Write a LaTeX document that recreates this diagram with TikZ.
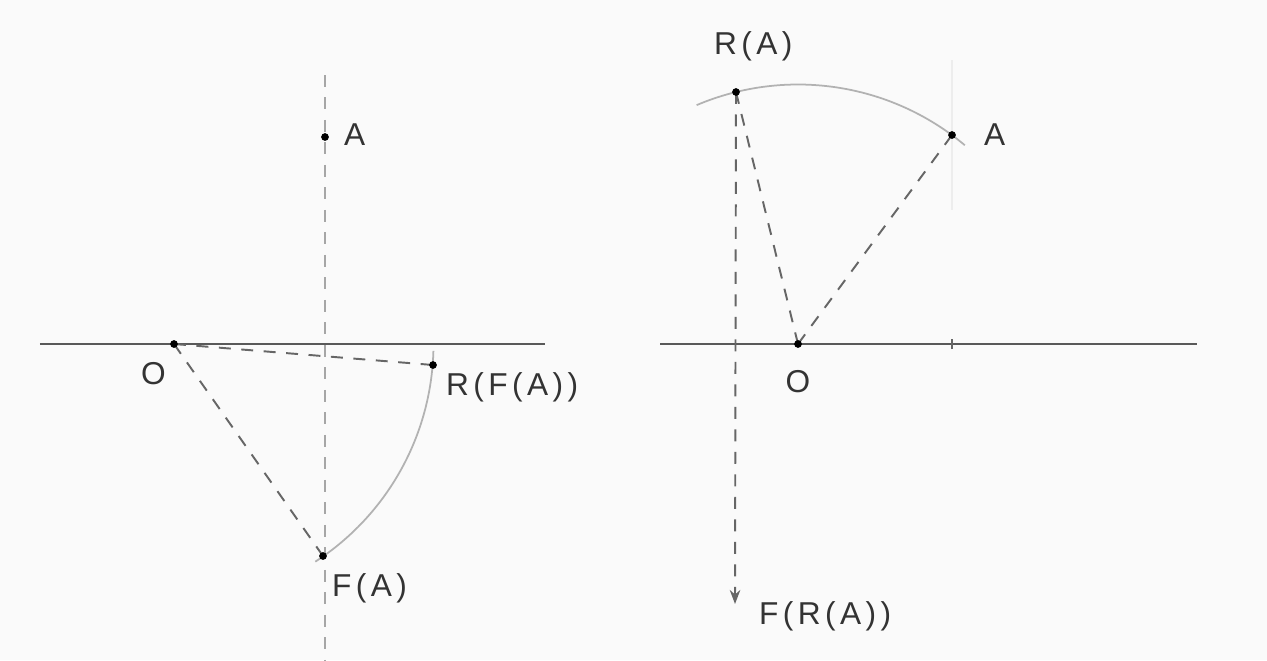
\documentclass[tikz,border=0pt]{standalone}
\usepackage{fontspec}
\newfontfamily\handfont[LetterSpace=14]{Liberation Sans}
\usepackage{tikz}
\usetikzlibrary{arrows.meta,positioning,calc}
\tikzset{
  axis/.style   ={draw=black!65,line width=0.8pt},
  guide/.style  ={draw=black!60,line width=0.55pt,dash pattern=on 3.4pt off 3pt},
  faint/.style  ={draw=black!35,line width=0.4pt,dash pattern=on 3.4pt off 3pt},
  trace/.style  ={draw=black!30,line width=0.5pt},
  pt/.style     ={circle,fill=black,minimum size=2.2pt,inner sep=0pt},
  lbl/.style    ={font=\handfont\fontsize{9}{10}\selectfont,text=black!80,inner sep=1pt},
}
\begin{document}
\begin{tikzpicture}
  \fill[black!2] (0,0) rectangle (12.67,6.60);
  \useasboundingbox (0,0) rectangle (12.67,6.60);
  % left: rotate after reflecting
  \coordinate (lL) at (0.40,3.16); \coordinate (lR) at (5.45,3.16);
  \coordinate (lTop) at (3.25,5.85); \coordinate (lBot) at (3.25,0);
  \coordinate (lO) at (1.74,3.16);    \coordinate (lA) at (3.25,5.23);
  \coordinate (lFA) at (3.23,1.04);   \coordinate (lRFA) at (4.33,2.95);
  \draw[faint](lTop)--(lBot);
  \draw[axis](lL)--(lR);
  \draw[trace] ($(lO)+(-57:2.595)$) arc[start angle=-57,end angle=-1.5,radius=2.595];
  \draw[guide](lO)--(lRFA); \draw[guide](lO)--(lFA);
  \foreach \p in {lO,lA,lFA,lRFA}{\node[pt] at (\p){};}
  \node[lbl,anchor=east] at (1.70,2.86){O};
  \node[lbl,anchor=west] at (3.40,5.25){A};
  \node[lbl,anchor=west] at (3.28,0.72){F(A)};
  \node[lbl,anchor=west] at (4.42,2.73){R(F(A))};
  % right: reflect after rotating
  \coordinate (rL) at (6.60,3.16); \coordinate (rR) at (11.97,3.16);
  \coordinate (rO) at (7.98,3.16);    \coordinate (rA) at (9.52,5.25);
  \coordinate (rRA) at (7.36,5.68);   \coordinate (rFRA) at (7.35,0.56);
  \draw[axis](rL)--(rR);
  \draw[black!60,line width=0.6pt](9.52,3.11)--(9.52,3.21);
  \draw[black!7,line width=0.4pt](9.52,6.00)--(9.52,4.50);
  \draw[trace] ($(rO)+(50:2.595)$) arc[start angle=50,end angle=113,radius=2.595];
  \draw[guide](rO)--(rA); \draw[guide](rO)--(rRA);
  \draw[guide,-{Stealth[length=4pt,width=3pt]}](rRA)--(rFRA);
  \foreach \p in {rO,rA,rRA}{\node[pt] at (\p){};}
  \node[lbl] at (7.98,2.78){O};
  \node[lbl,anchor=west] at (9.80,5.25){A};
  \node[lbl,anchor=west] at (7.10,6.14){R(A)};
  \node[lbl,anchor=west] at (7.55,0.44){F(R(A))};
\end{tikzpicture}
\end{document}
